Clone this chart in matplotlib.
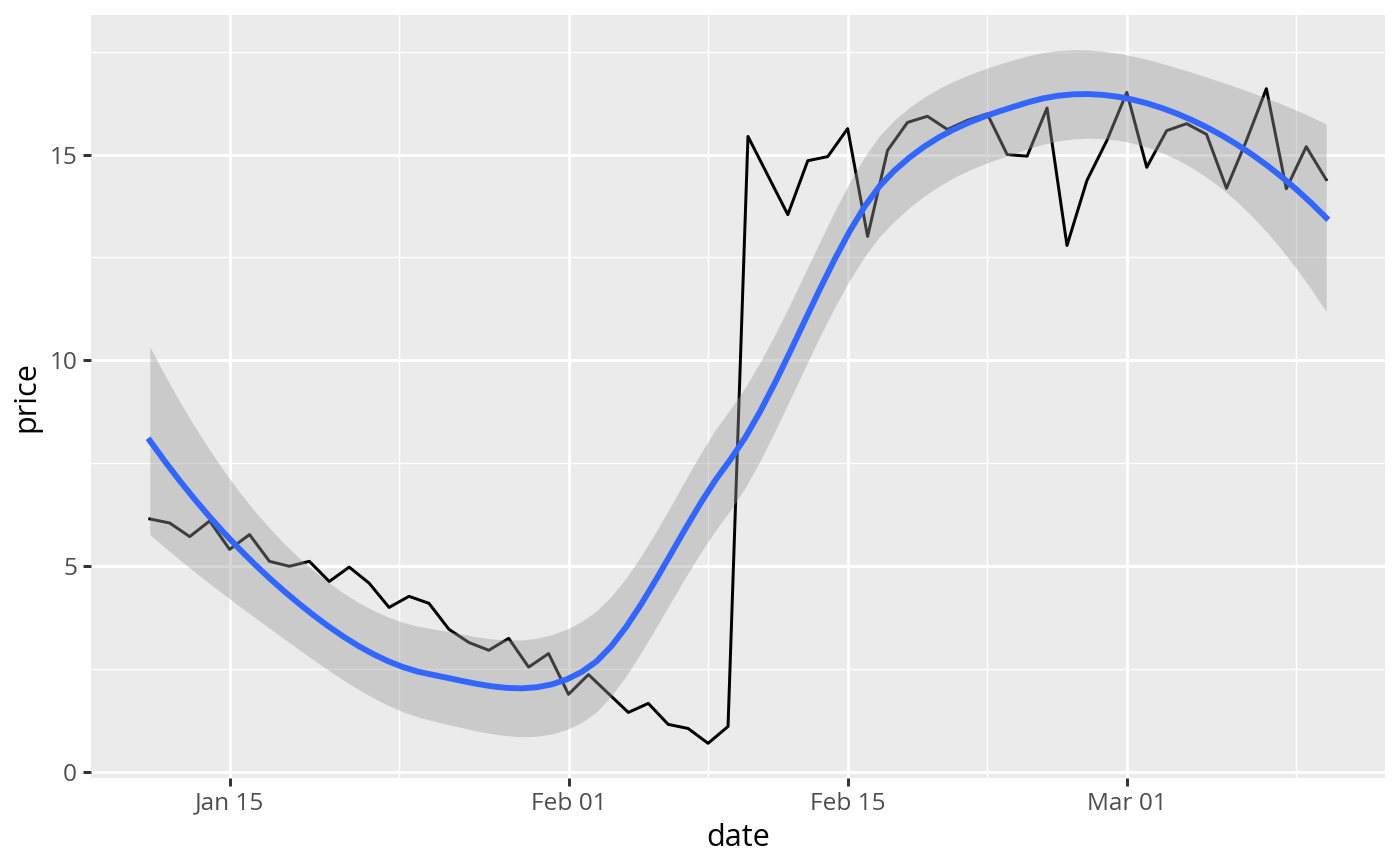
import numpy as np
import pandas as pd
import matplotlib
matplotlib.use("Agg")
import matplotlib.pyplot as plt
import matplotlib.dates as mdates

# daily series
start_date = "2023-01-11"
price = [
    6.15, 6.05, 5.72, 6.10, 5.41, 5.77, 5.12, 5.00, 5.12, 4.63,
    4.98, 4.59, 4.00, 4.27, 4.10, 3.47, 3.15, 2.96, 3.25, 2.55,
    2.88, 1.89, 2.37, 1.91, 1.45, 1.67, 1.16, 1.06, 0.70, 1.11,
    15.44, 14.49, 13.54, 14.85, 14.95, 15.63, 13.01, 15.10, 15.78, 15.93,
    15.61, 15.83, 15.99, 15.00, 14.96, 16.13, 12.79, 14.37, 15.34, 16.51,
    14.69, 15.58, 15.75, 15.49, 14.18, 15.34, 16.60, 14.17, 15.19, 14.39,
]
date_breaks = ["2023-01-15", "2023-02-01", "2023-02-15", "2023-03-01"]
date_labels = ["Jan 15", "Feb 01", "Feb 15", "Mar 01"]
price_breaks = [0, 5, 10, 15]

dates = pd.date_range(start_date, periods=len(price), freq="D")
y = np.array(price)
x = (dates - dates[0]).days.to_numpy().astype(float)
n = len(x)
span = 0.75


def local_rows(x0):
    # local quadratic, tricube weights -> operator rows for value and slope
    q = int(np.floor(n * span))
    d = np.abs(x - x0)
    h = np.sort(d)[q - 1]
    u = np.clip(d / h, 0, 1)
    w = (1 - u ** 3) ** 3
    X = np.column_stack([np.ones(n), x - x0, (x - x0) ** 2])
    XtW = X.T * w
    B = np.linalg.solve(XtW @ X, XtW)
    return B[0], B[1]


# kd-tree vertices (1-d) like loess surface="interpolate"
fc = int(np.floor(n * span * 0.2))
rng = x.max() - x.min()
verts = [x.min() - 0.005 * rng, x.max() + 0.005 * rng]


def split(lo_i, hi_i):
    if hi_i - lo_i + 1 <= fc:
        return
    m = (lo_i + hi_i) // 2
    verts.append(x[m])
    split(lo_i, m)
    split(m + 1, hi_i)


split(0, n - 1)
verts = np.sort(verts)
vrows = [local_rows(v) for v in verts]


def interp_row(x0):
    # cubic hermite between vertices
    k = np.clip(np.searchsorted(verts, x0) - 1, 0, len(verts) - 2)
    a, b = verts[k], verts[k + 1]
    hgt = b - a
    t = (x0 - a) / hgt
    h00 = 2 * t ** 3 - 3 * t ** 2 + 1
    h10 = t ** 3 - 2 * t ** 2 + t
    h01 = -2 * t ** 3 + 3 * t ** 2
    h11 = t ** 3 - t ** 2
    (va, sa), (vb, sb) = vrows[k], vrows[k + 1]
    return h00 * va + h10 * hgt * sa + h01 * vb + h11 * hgt * sb


L = np.array([interp_row(xi) for xi in x])
resid = y - L @ y
M = np.eye(n) - L
MtM = M.T @ M
one_delta = np.trace(MtM)
two_delta = np.trace(MtM @ MtM)
sigma = np.sqrt(np.sum(resid ** 2) / one_delta)
df = one_delta ** 2 / two_delta
z = 1.959964
tq = z + (z ** 3 + z) / (4 * df) + (5 * z ** 5 + 16 * z ** 3 + 3 * z) / (96 * df ** 2)

xs = np.linspace(x.min(), x.max(), 80)
Ls = np.array([interp_row(xi) for xi in xs])
fit = Ls @ y
se = sigma * np.sqrt(np.sum(Ls ** 2, axis=1))
lo, hi = fit - tq * se, fit + tq * se
xs_dates = dates[0] + pd.to_timedelta(xs, unit="D")

plt.rcParams["font.family"] = ["Open Sans", "DejaVu Sans"]

fig = plt.figure(figsize=(7, 4.33), dpi=200)
ax = fig.add_axes([91 / 1400, 1 - 778 / 866, (1385 - 91) / 1400, (778 - 15) / 866])
ax.set_facecolor("#EBEBEB")
for s in ax.spines.values():
    s.set_visible(False)

ax.plot(dates, y, color="black", lw=1.07, zorder=3)
ax.fill_between(xs_dates, lo, hi, color="#999999", alpha=0.4, lw=0, zorder=4)
ax.plot(xs_dates, fit, color="#3366FF", lw=2.13, zorder=5)

# limits with ggplot's 5% expansion
x0 = mdates.date2num(dates[0])
x1 = mdates.date2num(dates[-1])
dx = (x1 - x0) * 0.05
xlim = (x0 - dx, x1 + dx)
ymin = min(y.min(), lo.min())
ymax = max(y.max(), hi.max())
dy = (ymax - ymin) * 0.05
ylim = (ymin - dy, ymax + dy)

major = [mdates.date2num(pd.Timestamp(d)) for d in date_breaks]
step = major[1] - major[0]
ext = [major[0] - step] + major + [major[-1] + step]
minor = [(a + b) / 2 for a, b in zip(ext[:-1], ext[1:])]
minor = [m for m in minor if xlim[0] <= m <= xlim[1]]
ax.set_xticks(major)
ax.set_xticklabels(date_labels)
ax.set_xticks(minor, minor=True)
ax.set_yticks(price_breaks)
ax.set_yticklabels([str(v) for v in price_breaks])
ax.set_yticks([b + 2.5 for b in price_breaks if b + 2.5 <= ylim[1]], minor=True)
ax.set_xlim(*xlim)
ax.set_ylim(*ylim)

ax.grid(which="major", color="white", lw=1.07)
ax.grid(which="minor", color="white", lw=0.53)
ax.set_axisbelow(True)
ax.tick_params(which="major", color="#333333", length=2.75, width=1.07,
               labelcolor="#4D4D4D", labelsize=8.8, pad=2.2)
ax.tick_params(which="minor", length=0)

ax.set_xlabel("date", fontsize=11, color="black", labelpad=2.75)
ax.set_ylabel("price", fontsize=11, color="black", labelpad=2.75)

fig.savefig("out.png", dpi=200)
